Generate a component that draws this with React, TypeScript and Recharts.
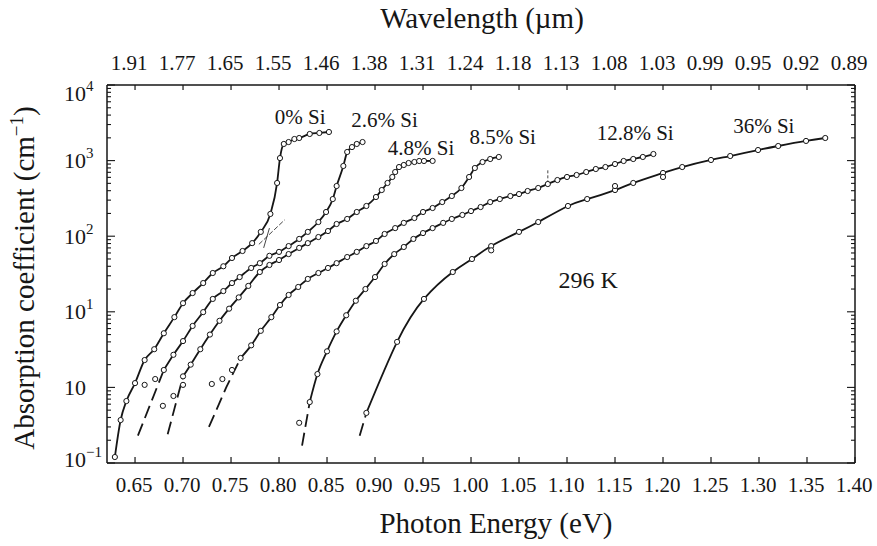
import {
  ComposedChart,
  Line,
  Scatter,
  XAxis,
  YAxis,
  ReferenceDot,
  ReferenceLine,
  Label,
} from 'recharts';

// photon energy ticks (eV) and matching wavelengths (µm) for the top axis
const energyTicks = [0.65, 0.7, 0.75, 0.8, 0.85, 0.9, 0.95, 1.0, 1.05, 1.1, 1.15, 1.2, 1.25, 1.3, 1.35, 1.4];
const wavelengthLabels = ['1.91', '1.77', '1.65', '1.55', '1.46', '1.38', '1.31', '1.24', '1.18', '1.13', '1.08', '1.03', '0.99', '0.95', '0.92', '0.89'];

// absorption decades and the exponent shown on each label
const alphaDecades = [0.1, 1, 10, 100, 1000, 10000];
const decadeExponents = ['−1', '', '1', '2', '3', '4'];

// 0% Si
const si0Energy = [0.629, 0.635, 0.641, 0.65, 0.66, 0.67, 0.68, 0.691, 0.7, 0.71, 0.721, 0.731, 0.742, 0.751, 0.762, 0.772, 0.781, 0.791, 0.798, 0.801, 0.805, 0.81, 0.816, 0.821, 0.832, 0.842, 0.852];
const si0Alpha = [0.12, 0.37, 0.66, 1.14, 2.3, 3.2, 5.2, 8.5, 13, 17.7, 24, 32.6, 40, 51.5, 63.7, 81, 114, 197, 506, 1080, 1660, 1760, 1930, 1990, 2250, 2320, 2390];

// 2.6% Si
const si26Energy = [0.68, 0.69, 0.7, 0.71, 0.721, 0.731, 0.742, 0.751, 0.759, 0.771, 0.78, 0.79, 0.8, 0.81, 0.821, 0.83, 0.841, 0.849, 0.856, 0.86, 0.867, 0.871, 0.876, 0.881, 0.887];
const si26Alpha = [1.7, 2.7, 4.1, 6.5, 9.9, 14.8, 18.8, 24, 28.8, 38, 44, 55, 62, 74, 92, 114, 154, 209, 310, 461, 849, 1300, 1510, 1660, 1760];
const si26TailEnergy = [0.653, 0.68];
const si26TailAlpha = [0.23, 1.7];
const si26StrayEnergy = [0.66, 0.671];
const si26StrayAlpha = [1.08, 1.29];

// 4.8% Si
const si48Energy = [0.7, 0.708, 0.718, 0.728, 0.738, 0.748, 0.758, 0.768, 0.78, 0.79, 0.8, 0.81, 0.821, 0.83, 0.841, 0.851, 0.86, 0.871, 0.881, 0.891, 0.901, 0.907, 0.913, 0.918, 0.921, 0.925, 0.93, 0.935, 0.941, 0.946, 0.951, 0.96];
const si48Alpha = [1.4, 2.0, 3.2, 5.0, 7.6, 11, 15.5, 22, 33.6, 41.6, 48.4, 58, 70, 81, 97.5, 117, 145, 169, 209, 251, 330, 408, 506, 607, 706, 822, 875, 929, 958, 988, 988, 990];
const si48TailEnergy = [0.684, 0.7];
const si48TailAlpha = [0.24, 1.4];
const si48StrayEnergy = [0.679, 0.69, 0.7];
const si48StrayAlpha = [0.57, 0.77, 1.08];

// 8.5% Si
const si85Energy = [0.76, 0.771, 0.781, 0.792, 0.801, 0.81, 0.82, 0.83, 0.841, 0.851, 0.86, 0.871, 0.881, 0.891, 0.901, 0.91, 0.921, 0.93, 0.941, 0.95, 0.96, 0.97, 0.98, 0.99, 0.998, 1.004, 1.012, 1.02, 1.029];
const si85Alpha = [2.45, 3.6, 5.6, 8.5, 12.3, 16.7, 21.3, 27.2, 32.6, 38, 44, 53, 62, 74, 86.5, 107, 128, 150, 174, 209, 236, 283, 340, 434, 607, 798, 958, 1050, 1117];
const si85TailEnergy = [0.727, 0.745, 0.76];
const si85TailAlpha = [0.3, 1.0, 2.45];
const si85StrayEnergy = [0.73, 0.741, 0.751];
const si85StrayAlpha = [1.11, 1.29, 1.7];

// 12.8% Si
const si128Energy = [0.832, 0.84, 0.85, 0.86, 0.87, 0.88, 0.89, 0.9, 0.91, 0.92, 0.93, 0.94, 0.95, 0.96, 0.971, 0.98, 0.991, 1.0, 1.01, 1.02, 1.03, 1.041, 1.05, 1.059, 1.07, 1.08, 1.09, 1.1, 1.11, 1.12, 1.13, 1.14, 1.15, 1.159, 1.169, 1.179, 1.19];
const si128Alpha = [0.64, 1.5, 3.0, 5.5, 9, 14, 20, 28.8, 42.9, 58, 72, 92, 110, 128, 150, 169, 191, 215, 243, 283, 310, 340, 361, 396, 434, 490, 553, 607, 645, 706, 774, 822, 901, 988, 1050, 1117, 1222];
const si128TailEnergy = [0.824, 0.832];
const si128TailAlpha = [0.17, 0.64];
const si128StrayEnergy = [0.821];
const si128StrayAlpha = [0.34];

// 36% Si
const si36Energy = [0.891, 0.923, 0.951, 0.981, 1.001, 1.021, 1.05, 1.07, 1.101, 1.121, 1.15, 1.169, 1.2, 1.22, 1.25, 1.27, 1.299, 1.32, 1.349, 1.369];
const si36Alpha = [0.46, 4.0, 14.8, 33.6, 49.9, 74, 114, 154, 251, 310, 408, 506, 686, 822, 1019, 1150, 1380, 1560, 1820, 1990];
const si36TailEnergy = [0.884, 0.891];
const si36TailAlpha = [0.23, 0.46];
const si36StrayEnergy = [1.021, 1.15, 1.2];
const si36StrayAlpha = [65, 461, 607];

const INK = '#161616';
const FONT = '"Liberation Serif", "DejaVu Serif", serif';

const pts = (es: number[], as: number[]) => es.map((e, i) => ({ e, a: as[i] }));

// decades plus the 2..9 minor steps of each decade
const alphaTicks = alphaDecades
  .flatMap((d) => [1, 2, 3, 4, 5, 6, 7, 8, 9].map((k) => d * k))
  .filter((v) => v <= 10000);

const decadeIndex = (v: number) =>
  alphaDecades.findIndex((d) => Math.abs(d - v) / d < 1e-6);

function BottomTick({ x, y, payload }: any) {
  return (
    <g>
      <line x1={x} y1={y} x2={x} y2={y - 6} stroke={INK} strokeWidth={1.2} />
      <text x={x - 1} y={y + 29} textAnchor="middle" fontSize={21} fontFamily={FONT} fill={INK}>
        {payload.value.toFixed(2)}
      </text>
    </g>
  );
}

function TopTick({ x, y, index }: any) {
  return (
    <g>
      <line x1={x} y1={y} x2={x} y2={y + 5} stroke={INK} strokeWidth={1.2} />
      <text x={x - 6} y={y - 15} textAnchor="middle" fontSize={21} fontFamily={FONT} fill={INK}>
        {wavelengthLabels[index]}
      </text>
    </g>
  );
}

function LeftTick({ x, y, payload }: any) {
  const i = decadeIndex(payload.value);
  const major = i >= 0;
  const cy = Math.min(Math.max(y, 93), 459);
  return (
    <g>
      <line x1={x} y1={y} x2={x + (major ? 8 : 4)} y2={y} stroke={INK} strokeWidth={1.1} />
      {major && (
        <text x={x - 43} y={cy + 7.5} fontSize={22} fontFamily={FONT} fill={INK}>
          10
          {decadeExponents[i] && (
            <tspan dy={-10} fontSize={15}>
              {decadeExponents[i]}
            </tspan>
          )}
        </text>
      )}
    </g>
  );
}

function RightTick({ x, y, payload }: any) {
  const major = decadeIndex(payload.value) >= 0;
  return <line x1={x} y1={y} x2={x - (major ? 8 : 4)} y2={y} stroke={INK} strokeWidth={1.1} />;
}

const dotStyle = { r: 2.6, fill: '#fff', stroke: INK, strokeWidth: 1 };

function StrayDot({ cx, cy }: any) {
  return <circle cx={cx} cy={cy} r={2.6} fill="#fff" stroke={INK} strokeWidth={1} />;
}

const curves = [
  { name: '0% Si', curve: 'monotone', data: pts(si0Energy, si0Alpha) },
  { name: '2.6% Si', curve: 'monotone', data: pts(si26Energy, si26Alpha) },
  { name: '4.8% Si', curve: 'monotone', data: pts(si48Energy, si48Alpha) },
  { name: '8.5% Si', curve: 'monotone', data: pts(si85Energy, si85Alpha) },
  { name: '12.8% Si', curve: 'monotone', data: pts(si128Energy, si128Alpha) },
  { name: '36% Si', curve: 'natural', data: pts(si36Energy, si36Alpha) },
];

const tails = [
  pts(si26TailEnergy, si26TailAlpha),
  pts(si48TailEnergy, si48TailAlpha),
  pts(si85TailEnergy, si85TailAlpha),
  pts(si128TailEnergy, si128TailAlpha),
  pts(si36TailEnergy, si36TailAlpha),
];

const strays = [
  ...pts(si26StrayEnergy, si26StrayAlpha),
  ...pts(si48StrayEnergy, si48StrayAlpha),
  ...pts(si85StrayEnergy, si85StrayAlpha),
  ...pts(si128StrayEnergy, si128StrayAlpha),
  ...pts(si36StrayEnergy, si36StrayAlpha),
];

const noteStyle = { fontSize: 21, fill: INK, fontFamily: FONT };

export default function App() {
  return (
    <div style={{ position: 'absolute', left: 0, top: 0, background: '#fff' }}>
      <ComposedChart width={877} height={546} margin={{ top: 0, right: 0, bottom: 0, left: 0 }}>
        <XAxis
          xAxisId="bottom"
          dataKey="e"
          type="number"
          domain={[0.6208, 1.4]}
          allowDataOverflow
          ticks={energyTicks}
          interval={0}
          height={83}
          tickSize={0}
          tickMargin={0}
          tickLine={false}
          axisLine={{ stroke: INK, strokeWidth: 1.5 }}
          tick={<BottomTick />}
        >
          <Label
            content={() => (
              <text x={496} y={533} textAnchor="middle" fontSize={29} fontFamily={FONT} fill={INK}>
                Photon Energy (eV)
              </text>
            )}
          />
        </XAxis>
        <XAxis
          xAxisId="top"
          orientation="top"
          dataKey="e"
          type="number"
          domain={[0.6208, 1.4]}
          allowDataOverflow
          ticks={energyTicks}
          interval={0}
          height={85}
          tickSize={0}
          tickMargin={0}
          tickLine={false}
          axisLine={{ stroke: INK, strokeWidth: 1.5 }}
          tick={<TopTick />}
        >
          <Label
            content={() => (
              <text x={482} y={28} textAnchor="middle" fontSize={29} fontFamily={FONT} fill={INK}>
                Wavelength (µm)
              </text>
            )}
          />
        </XAxis>
        <YAxis
          yAxisId="left"
          scale="log"
          type="number"
          domain={[0.1, 10000]}
          allowDataOverflow
          ticks={alphaTicks}
          interval={0}
          width={107}
          tickSize={0}
          tickMargin={0}
          tickLine={false}
          axisLine={{ stroke: INK, strokeWidth: 1.5 }}
          tick={<LeftTick />}
        >
          <Label
            content={() => (
              <text
                x={34}
                y={278}
                transform="rotate(-90, 34, 278)"
                textAnchor="middle"
                fontSize={29}
                fontFamily={FONT}
                fill={INK}
              >
                Absorption coefficient (cm
                <tspan dy={-11} fontSize={19}>
                  −1
                </tspan>
                <tspan dy={11}>)</tspan>
              </text>
            )}
          />
        </YAxis>
        <YAxis
          yAxisId="right"
          orientation="right"
          scale="log"
          type="number"
          domain={[0.1, 10000]}
          allowDataOverflow
          ticks={alphaTicks}
          interval={0}
          width={22}
          tickSize={0}
          tickMargin={0}
          tickLine={false}
          axisLine={{ stroke: INK, strokeWidth: 1.5 }}
          tick={<RightTick />}
        />

        {tails.map((data, i) => (
          <Line
            key={`tail-${i}`}
            xAxisId="bottom"
            yAxisId="left"
            data={data}
            dataKey="a"
            type="linear"
            stroke={INK}
            strokeWidth={1.8}
            strokeDasharray="13 6"
            dot={false}
            activeDot={false}
            isAnimationActive={false}
          />
        ))}

        {curves.map((c) => (
          <Line
            key={c.name}
            name={c.name}
            xAxisId="bottom"
            yAxisId="left"
            data={c.data}
            dataKey="a"
            type={c.curve as any}
            stroke={INK}
            strokeWidth={1.8}
            dot={dotStyle}
            activeDot={false}
            isAnimationActive={false}
          />
        ))}

        <Scatter
          xAxisId="bottom"
          yAxisId="left"
          data={strays}
          dataKey="a"
          shape={<StrayDot />}
          isAnimationActive={false}
        />

        {/* tangent construction at the 0% Si edge and the marker on 12.8% Si */}
        <ReferenceLine
          xAxisId="bottom"
          yAxisId="left"
          segment={[{ x: 0.779, y: 78 }, { x: 0.806, y: 165 }]}
          stroke={INK}
          strokeWidth={0.8}
          strokeDasharray="5 2"
        />
        <ReferenceLine
          xAxisId="bottom"
          yAxisId="left"
          segment={[{ x: 0.784, y: 70 }, { x: 0.79, y: 128 }]}
          stroke={INK}
          strokeWidth={0.8}
        />
        <ReferenceLine
          xAxisId="bottom"
          yAxisId="left"
          segment={[{ x: 1.08, y: 500 }, { x: 1.08, y: 760 }]}
          stroke={INK}
          strokeWidth={0.8}
          strokeDasharray="3 2"
        />

        <ReferenceDot xAxisId="bottom" yAxisId="left" x={0.822} y={3780} r={0} label={{ value: '0% Si', position: 'center', ...noteStyle }} />
        <ReferenceDot xAxisId="bottom" yAxisId="left" x={0.91} y={3440} r={0} label={{ value: '2.6% Si', position: 'center', ...noteStyle }} />
        <ReferenceDot xAxisId="bottom" yAxisId="left" x={0.948} y={1470} r={0} label={{ value: '4.8% Si', position: 'center', ...noteStyle }} />
        <ReferenceDot xAxisId="bottom" yAxisId="left" x={1.033} y={2050} r={0} label={{ value: '8.5% Si', position: 'center', ...noteStyle }} />
        <ReferenceDot xAxisId="bottom" yAxisId="left" x={1.171} y={2320} r={0} label={{ value: '12.8% Si', position: 'center', ...noteStyle }} />
        <ReferenceDot xAxisId="bottom" yAxisId="left" x={1.305} y={2870} r={0} label={{ value: '36% Si', position: 'center', ...noteStyle }} />
        <ReferenceDot xAxisId="bottom" yAxisId="left" x={1.122} y={27} r={0} label={{ value: '296 K', position: 'center', ...noteStyle, fontSize: 24 }} />
      </ComposedChart>
    </div>
  );
}
